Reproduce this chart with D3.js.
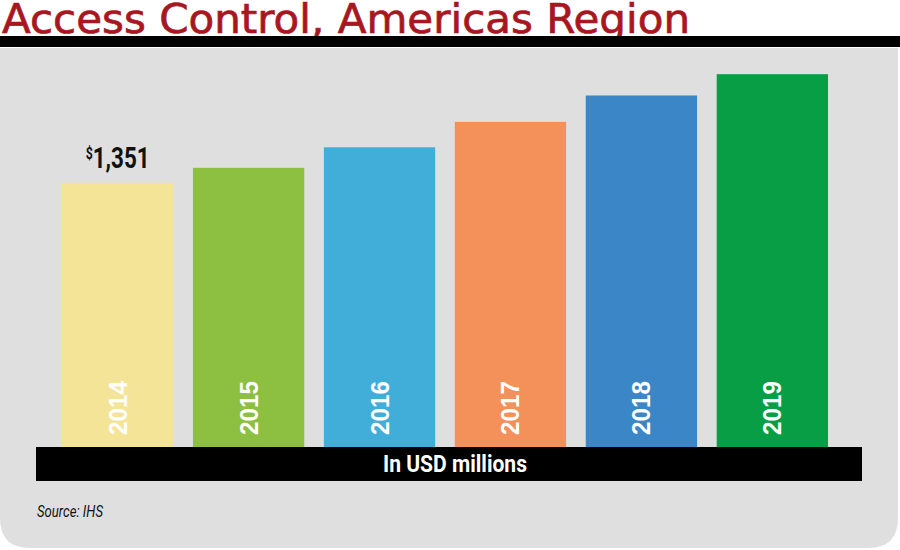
<!DOCTYPE html>
<html>
<head>
<meta charset="utf-8">
<script src="https://d3js.org/d3.v7.min.js"></script>
<style>
  body { margin: 0; background: #fff; }
  svg { display: block; }
</style>
</head>
<body>
<svg id="canvas"></svg>
<script>
"use strict"

// Chart data
const years = ["2014", "2015", "2016", "2017", "2018", "2019"];
const values = [1351, 1428, 1533, 1663, 1798, 1907];
const barColors = ["#f4e497", "#8dc041", "#41aed9", "#f4905a", "#3a86c6", "#089e45"];
const labelledYear = "2014";

const canvasWidth = 900;
const canvasHeight = 550;
const baseline = 447;
const narrow = "'Liberation Sans Narrow', 'Roboto', 'Arial Narrow', sans-serif";

const canvas = d3.select("#canvas")
    .attr("width", canvasWidth)
    .attr("height", canvasHeight);

// Title
canvas.append("text")
    .text("Access Control, Americas Region")
    .attr("x", 2)
    .attr("y", 33)
    .attr("fill", "#a8171f")
    .attr("stroke", "#a8171f")
    .attr("stroke-width", 0.7)
    .attr("font-family", "'DejaVu Sans', sans-serif")
    .attr("font-size", 40)
    .attr("textLength", 688)
    .attr("lengthAdjust", "spacingAndGlyphs");

// Black rule under the title
canvas.append("rect")
    .attr("x", 0).attr("y", 36)
    .attr("width", canvasWidth).attr("height", 11)
    .attr("fill", "#000");

// Grey panel with rounded bottom corners
const r = 30, px0 = 0, px1 = 898, py0 = 48, py1 = 548;
canvas.append("path")
    .attr("d", `M${px0},${py0} H${px1} V${py1 - r} Q${px1},${py1} ${px1 - r},${py1} H${px0 + r} Q${px0},${py1} ${px0},${py1 - r} Z`)
    .attr("fill", "#e0dfe0");

// Scales
const x = d3.scaleBand()
    .domain(years)
    .range([62, 828])
    .paddingInner(0.15)
    .paddingOuter(0);

const y = d3.scaleLinear()
    .domain([0, 2000])
    .range([baseline, 56]);

// Bars
canvas.append("g")
    .selectAll("rect")
    .data(years)
    .join("rect")
    .attr("x", d => x(d))
    .attr("y", (d, i) => y(values[i]))
    .attr("width", x.bandwidth())
    .attr("height", (d, i) => y(0) - y(values[i]))
    .attr("fill", (d, i) => barColors[i]);

// Year labels inside the bars
canvas.append("g")
    .selectAll("text")
    .data(years)
    .join("text")
    .text(d => d)
    .attr("transform", d => `translate(${x(d) + x.bandwidth() / 2},435) rotate(-90)`)
    .attr("dy", "0.36em")
    .attr("fill", "#fff")
    .attr("font-family", "'Liberation Sans', Arial, sans-serif")
    .attr("font-weight", "bold")
    .attr("font-size", 25)
    .attr("textLength", 54)
    .attr("lengthAdjust", "spacingAndGlyphs");

// Value label on the first bar
const i0 = years.indexOf(labelledYear);
const valueLabel = canvas.append("text")
    .attr("x", x(labelledYear) + x.bandwidth() / 2)
    .attr("y", y(values[i0]) - 15)
    .attr("text-anchor", "middle")
    .attr("fill", "#111")
    .attr("font-family", narrow)
    .attr("font-weight", "bold")
    .attr("font-size", 29)
    .attr("textLength", 64)
    .attr("lengthAdjust", "spacingAndGlyphs");
valueLabel.append("tspan")
    .text("$")
    .attr("font-size", 16)
    .attr("dy", -9);
valueLabel.append("tspan")
    .text(d3.format(",")(values[i0]))
    .attr("dy", 9);

// Axis band
canvas.append("rect")
    .attr("x", 36).attr("y", baseline)
    .attr("width", 826).attr("height", 34)
    .attr("fill", "#000");

canvas.append("text")
    .text("In USD millions")
    .attr("x", 455)
    .attr("y", baseline + 25)
    .attr("text-anchor", "middle")
    .attr("fill", "#fff")
    .attr("font-family", narrow)
    .attr("font-weight", "bold")
    .attr("font-size", 23)
    .attr("textLength", 144)
    .attr("lengthAdjust", "spacingAndGlyphs");

// Source note
canvas.append("text")
    .text("Source: IHS")
    .attr("x", 37)
    .attr("y", 517)
    .attr("fill", "#111")
    .attr("font-family", narrow)
    .attr("font-style", "italic")
    .attr("font-size", 16)
    .attr("textLength", 66)
    .attr("lengthAdjust", "spacingAndGlyphs");
</script>
</body>
</html>
